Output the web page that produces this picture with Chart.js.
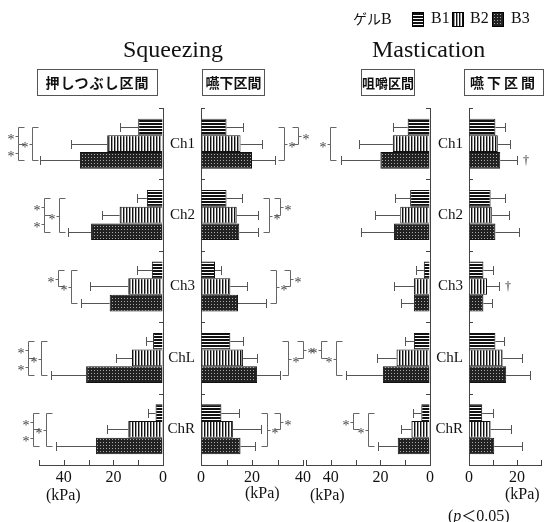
<!DOCTYPE html>
<html>
<head>
<meta charset="utf-8">
<script src="https://cdn.jsdelivr.net/npm/chart.js@4.4.1/dist/chart.umd.min.js"></script>
<style>
  body { margin: 0; background: #fff; }
  #wrap { position: relative; width: 544px; height: 522px; overflow: hidden; }
  canvas { position: absolute; left: 0; top: 0; }
  .t { position: absolute; white-space: nowrap; font-family: "Liberation Serif", "Times New Roman", serif; color: #111; }
  .jp { font-family: "Noto Sans CJK JP", sans-serif; }
  .box { position: absolute; top: 69px; height: 27px; border: 1px solid #555; box-sizing: border-box;
         font-family: "Noto Sans CJK JP", sans-serif; font-weight: bold; font-size: 14px; line-height: 25px;
         text-align: center; color: #111; white-space: nowrap; }
  .sw { position: absolute; top: 12px; width: 12px; height: 15px; border: 1px solid #000; box-sizing: border-box; }
</style>
</head>
<body>
<div id="wrap">
  <canvas id="c1" width="544" height="522"></canvas>
  <canvas id="c2" width="544" height="522"></canvas>
  <canvas id="c3" width="544" height="522"></canvas>
  <canvas id="c4" width="544" height="522"></canvas>

  <div class="t" style="left:353px;top:8px;font-size:16px;"><span class="jp" style="font-size:14px;">ゲル</span>B</div>
  <div class="sw" id="sw1" style="left:412px;"></div>
  <div class="t" style="left:431px;top:9px;font-size:16px;">B1</div>
  <div class="sw" id="sw2" style="left:452px;"></div>
  <div class="t" style="left:470px;top:9px;font-size:16px;">B2</div>
  <div class="sw" id="sw3" style="left:492px;"></div>
  <div class="t" style="left:511px;top:9px;font-size:16px;">B3</div>

  <div class="t" style="left:123px;top:37px;font-size:24px;line-height:24px;">Squeezing</div>
  <div class="t" style="left:372px;top:37px;font-size:24px;line-height:24px;">Mastication</div>

  <div class="box" style="left:37px;width:121px;letter-spacing:1px;">押しつぶし区間</div>
  <div class="box" style="left:202px;width:63px;">嚥下区間</div>
  <div class="box" style="left:361px;width:54px;font-size:13px;">咀嚼区間</div>
  <div class="box" style="left:464px;width:80px;letter-spacing:3px;">嚥下区間</div>

  <div class="t" style="left:46px;top:486px;font-size:16px;">(kPa)</div>
  <div class="t" style="left:245px;top:484px;font-size:16px;">(kPa)</div>
  <div class="t" style="left:310px;top:486px;font-size:16px;">(kPa)</div>
  <div class="t" style="left:505px;top:485px;font-size:16px;">(kPa)</div>
  <div class="t" style="left:448px;top:504px;font-size:16px;">(<i>p</i><span class="jp" style="font-size:15px;">＜</span>0.05)</div>
</div>

<script>
const categories = ["Ch1", "Ch2", "Ch3", "ChL", "ChR"];
const groups = ["B1", "B2", "B3"];

// Squeezing, 押しつぶし区間 (kPa): means and SDs
const sqzPressB1 = [10, 6.5, 4.5, 4, 3];
const sqzPressB2 = [22.5, 17.5, 14, 12.5, 14];
const sqzPressB3 = [33.5, 29, 21.5, 31, 27];
const sqzPressB1Sd = [7.5, 4, 6, 3, 3];
const sqzPressB2Sd = [14.5, 7, 15.5, 6.5, 8.5];
const sqzPressB3Sd = [16, 9.5, 11.5, 14, 16];

// Squeezing, 嚥下区間
const sqzSwalB1 = [10, 10, 5.5, 11.5, 8];
const sqzSwalB2 = [15.5, 14, 11.5, 16.5, 12.5];
const sqzSwalB3 = [20, 15, 14.5, 22, 15.5];
const sqzSwalB1Sd = [6.5, 6, 2.5, 5, 7];
const sqzSwalB2Sd = [8.5, 8.5, 6.5, 5.5, 11];
const sqzSwalB3Sd = [9, 7.5, 11, 9, 5.5];

// Mastication, 咀嚼区間
const masChewB1 = [9, 8, 2.5, 6.5, 3.5];
const masChewB2 = [15, 12, 6.5, 13.5, 7.5];
const masChewB3 = [20, 14.5, 6.5, 19, 13];
const masChewB1Sd = [6, 6, 3, 3.5, 3.5];
const masChewB2Sd = [13.5, 10, 8, 8, 4];
const masChewB3Sd = [16, 13.5, 5, 15, 8];

// Mastication, 嚥下区間
const masSwalB1 = [11, 9, 6, 11, 5.5];
const masSwalB2 = [12, 9.5, 7.5, 14, 9];
const masSwalB3 = [13, 11, 6, 15.5, 10.5];
const masSwalB1Sd = [4, 6, 4, 3.5, 4.5];
const masSwalB2Sd = [5, 7, 5, 8, 8.5];
const masSwalB3Sd = [7, 10, 3.5, 10, 11.5];

// tick labels shown on each value axis
const ticksWide = [0, 20, 40];
const ticksNarrow = [0, 20];

// significance brackets: [category, fromBar, toBar, position (kPa), label]
const sigSqzPress = [
  [0, 0, 1, 58.5, "*"], [0, 1, 2, 58.5, "*"], [0, 0, 2, 53, "*"],
  [1, 0, 1, 48, "*"], [1, 1, 2, 48, "*"], [1, 0, 2, 42, "*"],
  [2, 0, 1, 42.5, "*"], [2, 0, 2, 37, "*"],
  [3, 0, 1, 54.5, "*"], [3, 1, 2, 54.5, "*"], [3, 0, 2, 49, "*"],
  [4, 0, 1, 52.5, "*"], [4, 1, 2, 52.5, "*"], [4, 0, 2, 47, "*"]
];
const sigSqzSwal = [
  [0, 0, 2, 32.5, "*"], [0, 0, 1, 38, "*"],
  [1, 0, 2, 26.5, "*"], [1, 0, 1, 31, "*"],
  [2, 0, 2, 29.5, "*"], [2, 0, 1, 35, "*"],
  [3, 0, 2, 34, "*"], [3, 0, 1, 40, "*"],
  [4, 0, 2, 26, "*"], [4, 0, 1, 31, "*"]
];
const sigMasChew = [
  [0, 0, 2, 40.5, "*"],
  [3, 0, 1, 44, "*"], [3, 0, 2, 38, "*"],
  [4, 0, 1, 31, "*"], [4, 0, 2, 25, "*"]
];
const sigMasSwal = [];
// trend marks: [category, bar, label]
const trendMasSwal = [[0, 2, "†"], [2, 1, "†"]];

Chart.defaults.font.family = '"Liberation Serif", "Times New Roman", serif';
Chart.defaults.color = "#111";

function makeTile(w, h, paint) {
  const c = document.createElement("canvas");
  c.width = w;
  c.height = h;
  paint(c.getContext("2d"));
  return c;
}

const tiles = [
  makeTile(4, 3, g => { g.fillStyle = "#111"; g.fillRect(0, 0, 4, 3); g.fillStyle = "#fff"; g.fillRect(0, 2, 4, 1); }),
  makeTile(3, 4, g => { g.fillStyle = "#fff"; g.fillRect(0, 0, 3, 4); g.fillStyle = "#111"; g.fillRect(0, 0, 1, 4); g.fillStyle = "#999"; g.fillRect(1, 0, 1, 4); }),
  makeTile(3, 3, g => { g.fillStyle = "#222"; g.fillRect(0, 0, 3, 3); g.fillStyle = "#aaa"; g.fillRect(1, 1, 1, 1); })
];
const patCtx = document.createElement("canvas").getContext("2d");
const fills = tiles.map(t => patCtx.createPattern(t, "repeat"));

tiles.forEach((t, k) => {
  document.getElementById("sw" + (k + 1)).style.backgroundImage = "url(" + t.toDataURL() + ")";
});

const crisp = v => Math.round(v) + 0.5;

const extras = {
  id: "extras",
  afterDatasetsDraw(chart, args, opts) {
    const ctx = chart.ctx;
    const xs = chart.scales.x, ys = chart.scales.y;
    const area = chart.chartArea;
    const inward = opts.reverse ? -1 : 1;
    ctx.save();
    ctx.lineWidth = 1;
    ctx.strokeStyle = "#444";

    // tick marks pointing into the plot
    ctx.beginPath();
    xs.ticks.forEach(t => {
      const px = crisp(xs.getPixelForValue(t.value));
      ctx.moveTo(px, area.bottom);
      ctx.lineTo(px, area.bottom - 5);
    });
    const axisX = opts.reverse ? area.right : area.left;
    for (let i = 0; i <= categories.length; i++) {
      const py = crisp(ys.getPixelForValue(i - 0.5));
      ctx.moveTo(axisX, py);
      ctx.lineTo(axisX + inward * 4, py);
    }
    ctx.stroke();

    // error bars (mean + SD)
    ctx.strokeStyle = "#555";
    chart.data.datasets.forEach((ds, di) => {
      chart.getDatasetMeta(di).data.forEach((bar, i) => {
        const end = crisp(xs.getPixelForValue(ds.data[i] + opts.sd[di][i]));
        const y = crisp(bar.y);
        ctx.beginPath();
        ctx.moveTo(bar.x, y);
        ctx.lineTo(end, y);
        ctx.moveTo(end, y - 4.5);
        ctx.lineTo(end, y + 4.5);
        ctx.stroke();
      });
    });

    // significance brackets
    const out = opts.reverse ? -1 : 1;
    ctx.strokeStyle = "#666";
    ctx.fillStyle = "#444";
    ctx.font = '14px "Liberation Serif", serif';
    ctx.textBaseline = "middle";
    ctx.textAlign = opts.reverse ? "right" : "left";
    opts.sig.forEach(([cat, from, to, at, label]) => {
      const y1 = crisp(chart.getDatasetMeta(from).data[cat].y);
      const y2 = crisp(chart.getDatasetMeta(to).data[cat].y);
      const x = crisp(xs.getPixelForValue(at));
      const ym = crisp((y1 + y2) / 2);
      ctx.beginPath();
      ctx.moveTo(x - out * 6, y1);
      ctx.lineTo(x, y1);
      ctx.lineTo(x, y2);
      ctx.lineTo(x - out * 6, y2);
      ctx.moveTo(x, ym);
      ctx.lineTo(x + out * 3, ym);
      ctx.stroke();
      ctx.fillText(label, x + out * 4, ym + 4);
    });

    // trend marks next to the SD caps
    ctx.textAlign = "left";
    ctx.fillStyle = "#222";
    ctx.font = '12px "Liberation Serif", serif';
    opts.trend.forEach(([cat, bi, label]) => {
      const bar = chart.getDatasetMeta(bi).data[cat];
      const ds = chart.data.datasets[bi];
      const end = xs.getPixelForValue(ds.data[cat] + opts.sd[bi][cat]);
      ctx.fillText(label, end + 6, bar.y);
    });
    ctx.restore();
  }
};

function panel(id, series, sds, o) {
  return new Chart(document.getElementById(id), {
    type: "bar",
    data: {
      labels: categories,
      datasets: series.map((d, k) => ({
        label: groups[k],
        data: d,
        backgroundColor: fills[k],
        borderColor: "#111",
        borderWidth: 1,
        categoryPercentage: 0.7,
        barPercentage: 1
      }))
    },
    options: {
      indexAxis: "y",
      responsive: false,
      animation: false,
      layout: { padding: o.pad },
      plugins: {
        legend: { display: false },
        tooltip: { enabled: false },
        extras: { sd: sds, sig: o.sig, trend: o.trend || [], reverse: o.reverse }
      },
      scales: {
        x: {
          min: 0,
          max: o.max,
          reverse: o.reverse,
          ticks: {
            stepSize: 10,
            autoSkip: false,
            maxRotation: 0,
            padding: 3,
            font: { size: 16 },
            color: "#111",
            callback: v => (o.labelled.includes(v) ? String(v) : "")
          },
          grid: { drawOnChartArea: false, drawTicks: false },
          border: { color: "#444" },
          afterFit: s => { s.height = 24; }
        },
        y: {
          position: o.reverse ? "right" : "left",
          ticks: { display: !o.reverse, padding: 6, font: { size: 15 }, color: "#111" },
          grid: { drawOnChartArea: false, drawTicks: false },
          border: { color: "#444" },
          afterFit: s => { s.width = o.reverse ? 0 : 40; }
        }
      }
    },
    plugins: [extras]
  });
}

panel("c1", [sqzPressB1, sqzPressB2, sqzPressB3], [sqzPressB1Sd, sqzPressB2Sd, sqzPressB3Sd],
  { max: 50, reverse: true, labelled: ticksWide, sig: sigSqzPress, pad: { left: 39, right: 381, top: 108, bottom: 33 } });
panel("c2", [sqzSwalB1, sqzSwalB2, sqzSwalB3], [sqzSwalB1Sd, sqzSwalB2Sd, sqzSwalB3Sd],
  { max: 40, reverse: false, labelled: ticksWide, sig: sigSqzSwal, pad: { left: 161, right: 241, top: 108, bottom: 33 } });
panel("c3", [masChewB1, masChewB2, masChewB3], [masChewB1Sd, masChewB2Sd, masChewB3Sd],
  { max: 50, reverse: true, labelled: ticksWide, sig: sigMasChew, pad: { left: 306, right: 114, top: 108, bottom: 33 } });
panel("c4", [masSwalB1, masSwalB2, masSwalB3], [masSwalB1Sd, masSwalB2Sd, masSwalB3Sd],
  { max: 30, reverse: false, labelled: ticksNarrow, sig: sigMasSwal, trend: trendMasSwal, pad: { left: 429, right: 2, top: 108, bottom: 33 } });
</script>
</body>
</html>
